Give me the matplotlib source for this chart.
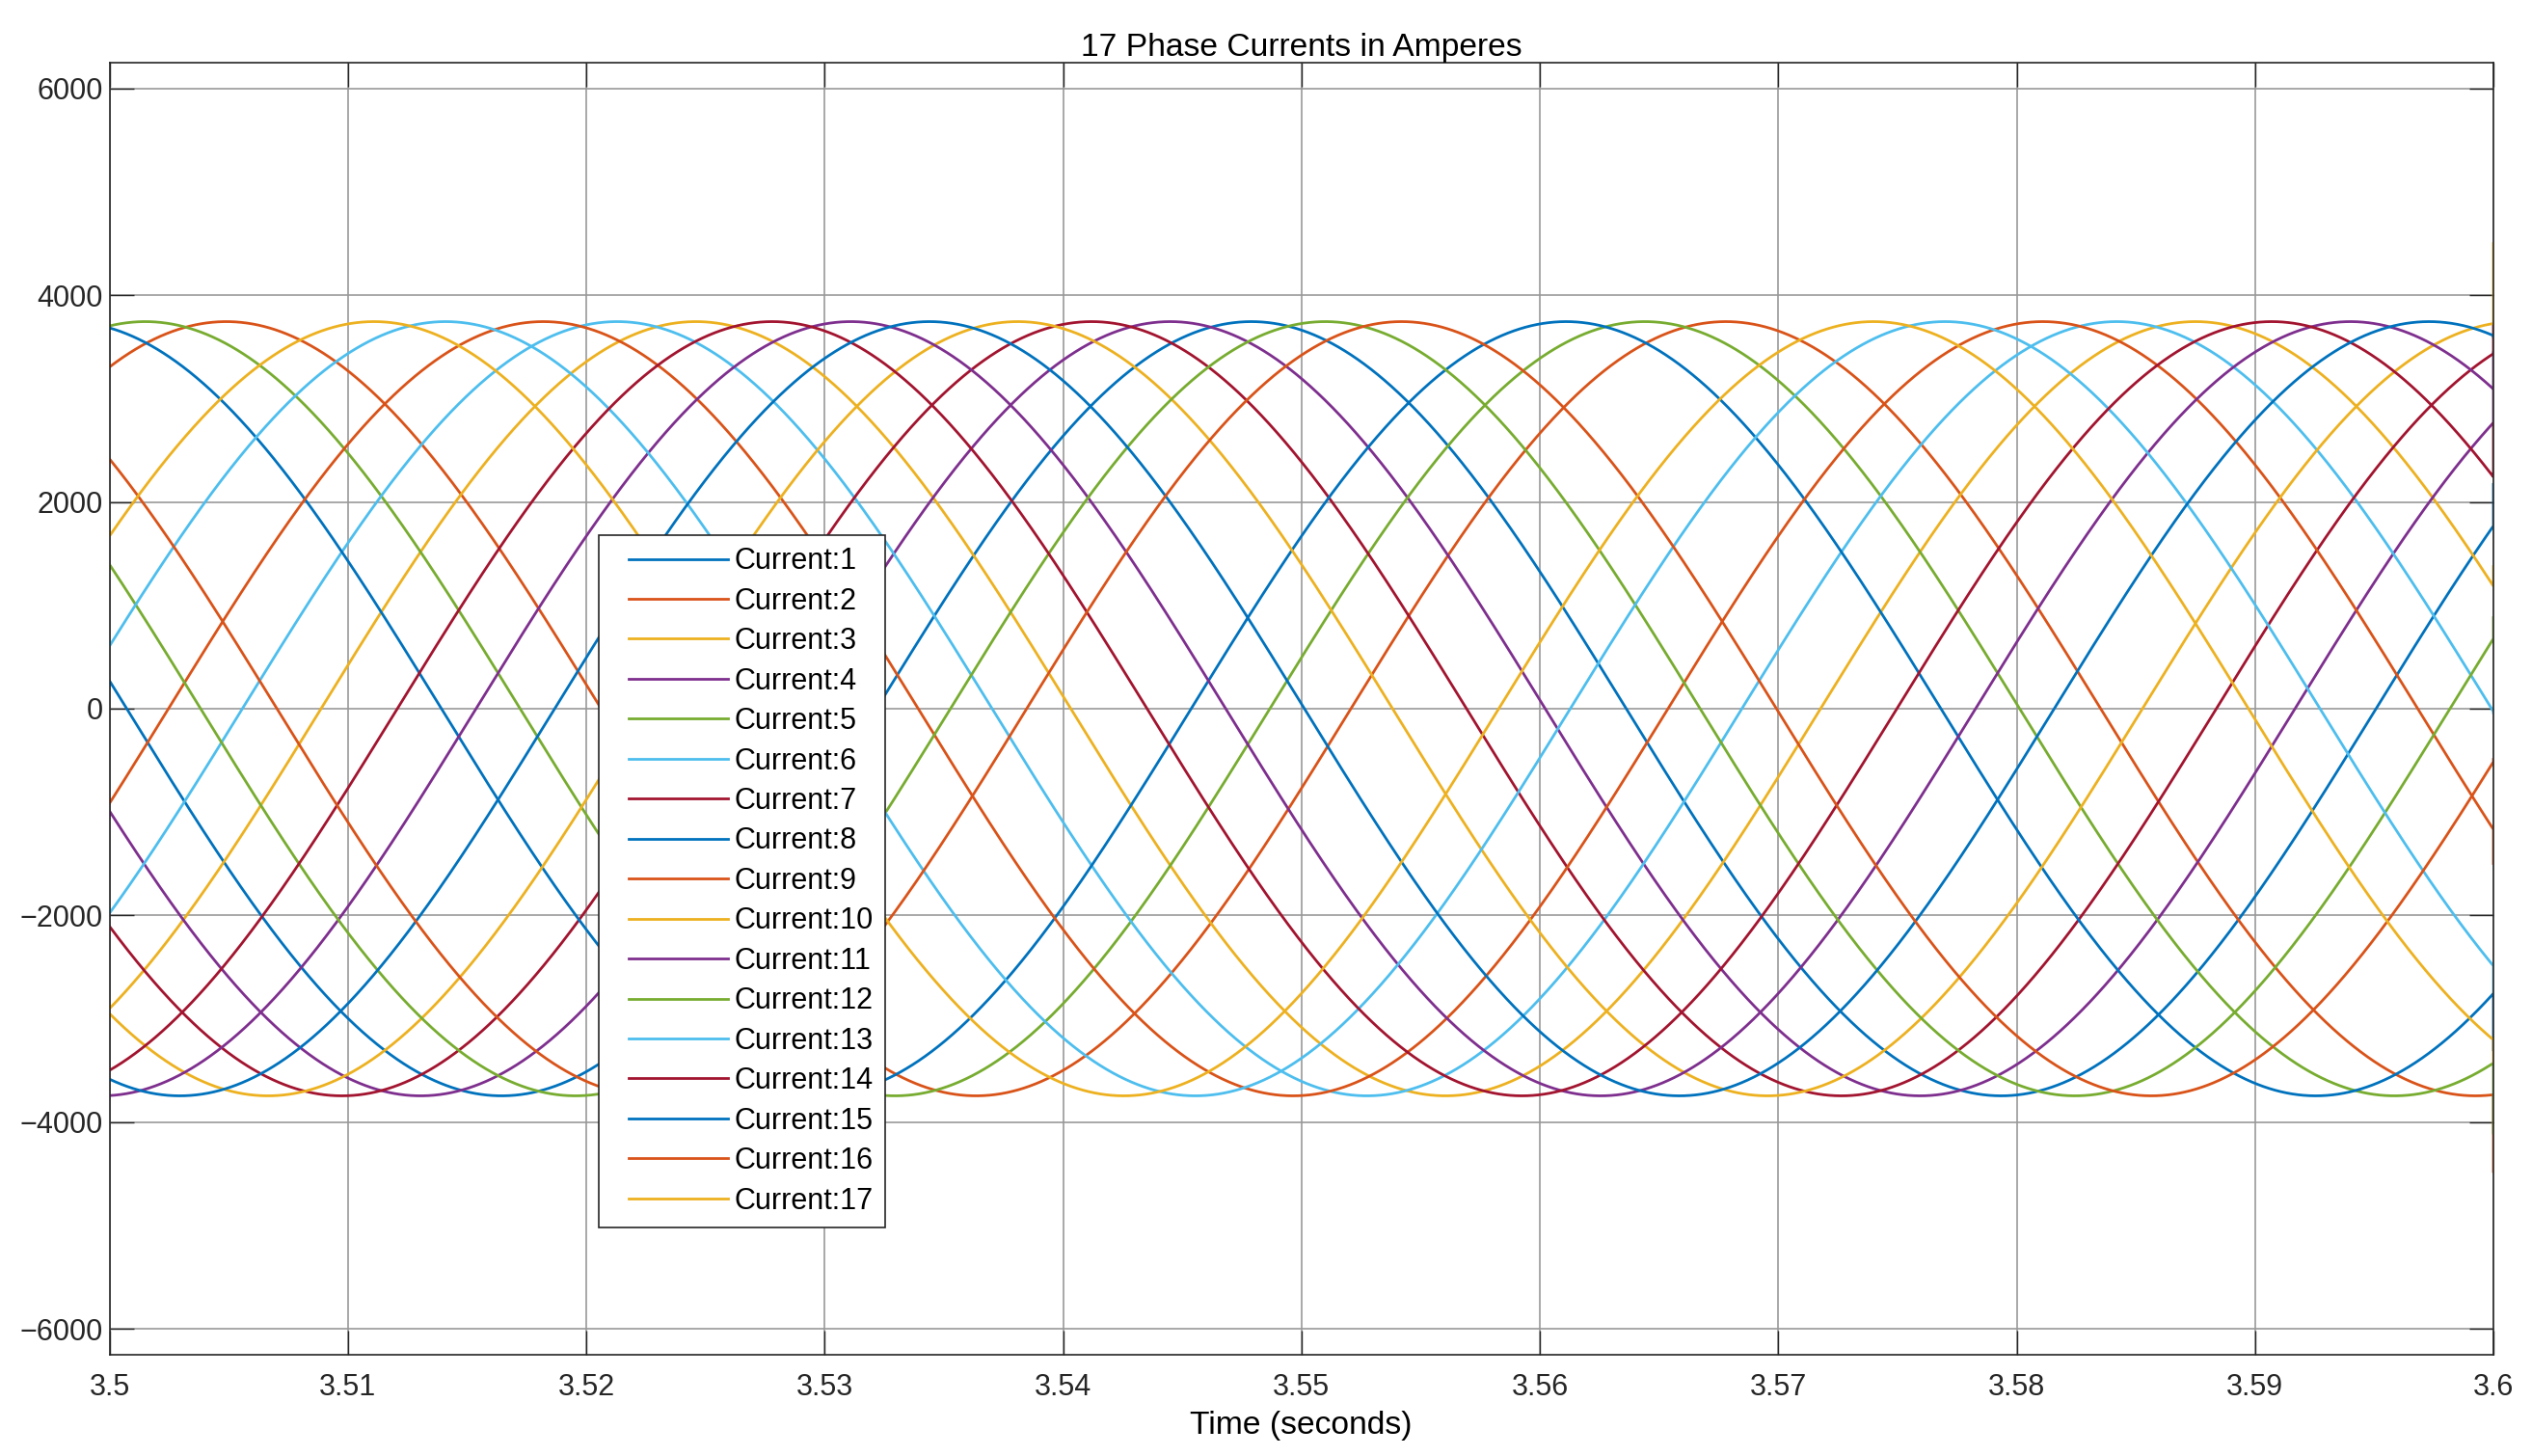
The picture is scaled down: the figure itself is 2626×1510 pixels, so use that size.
import numpy as np
import matplotlib
matplotlib.use("Agg")
import matplotlib.pyplot as plt
from matplotlib.legend_handler import HandlerLine2D

plt.rcParams['font.family'] = ['Liberation Sans', 'DejaVu Sans']

# values
current_names = ["Current:%d" % k for k in range(1, 18)]
# time of a positive peak for each current (s)
peak_time = [3.5479, 3.5049, 3.5246, 3.5445, 3.5015, 3.5213, 3.5412, 3.5611, 3.5182,
             3.5381, 3.5311, 3.5510, 3.5141, 3.5278, 3.5344, 3.5542, 3.5111]
amplitude = 3745.0      # A
period = 0.0629         # s
# last logged sample of each current at t = 3.6 s (jumps on the right edge)
last_sample = [2170, -4477, 1375, 3443, -4105, -40, 3720, -3300, -1497,
               4500, 3100, 880, -2740, 2760, 3600, -490, -3420]

matlab_colors = ['#0072BD', '#D95319', '#EDB120', '#7E2F8E', '#77AC30', '#4DBEEE', '#A2142F']

t_start, t_end = 3.5, 3.6
t = np.linspace(t_start, t_end, 5001)

fig = plt.figure(figsize=(13.13, 7.55), dpi=200)
ax = fig.add_axes([113.5 / 2626, 1 - 1405 / 1510, (2586 - 113.5) / 2626, (1405 - 65) / 1510])

for k in range(17):
    y = amplitude * np.cos(2 * np.pi * (t - peak_time[k]) / period)
    tt = np.append(t, t_end)
    yy = np.append(y, last_sample[k])
    ax.plot(tt, yy, color=matlab_colors[k % 7], lw=1.0, label=current_names[k])

ax.set_xlim(t_start, t_end)
ax.set_ylim(-6250, 6250)
xt = np.round(np.arange(3.5, 3.6001, 0.01), 2)
ax.set_xticks(xt)
ax.set_xticklabels(['%g' % v for v in xt])
ax.set_yticks([-6000, -4000, -2000, 0, 2000, 4000, 6000])

ax.grid(True, color='#999999', lw=0.6)
ax.set_axisbelow(True)
ax.tick_params(direction='in', length=9, width=0.5, top=True, right=True,
               labelsize=11, colors='#262626')
ax.tick_params(axis='x', pad=7)
ax.tick_params(axis='y', pad=2.5)
for s in ax.spines.values():
    s.set_color('#262626')
    s.set_linewidth(0.6)

ax.set_title('17 Phase Currents in Amperes', fontsize=12.1, pad=2.5)
ax.set_xlabel('Time (seconds)', fontsize=12.1, labelpad=3)

leg = ax.legend(loc='upper left', bbox_to_anchor=(621 / 2626, 1 - 555 / 1510),
                bbox_transform=fig.transFigure, borderaxespad=0, fontsize=11,
                frameon=True, fancybox=False, framealpha=1, edgecolor='#262626',
                borderpad=0.4, labelspacing=0.375, handlelength=4.0,
                handletextpad=0.2,
                handler_map={plt.Line2D: HandlerLine2D(xpad=0.62)})
leg.get_frame().set_linewidth(0.6)

fig.savefig('out.png', dpi=200)
